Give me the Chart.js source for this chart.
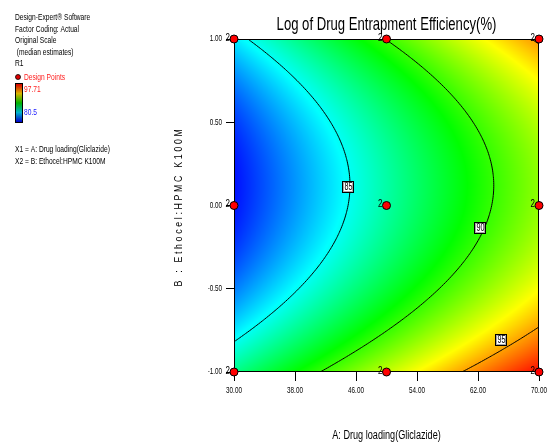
<!DOCTYPE html>
<html>
<head>
<meta charset="utf-8">
<script src="https://cdn.jsdelivr.net/npm/chart.js@4.4.0/dist/chart.umd.min.js"></script>
<style>
  html, body { margin: 0; padding: 0; background: #fff; }
</style>
</head>
<body>
<canvas id="chart-contour" width="548" height="442"></canvas>
<script>
// design levels (actual units for A, coded for B)
const drugLoading = [30, 50, 70];
const ethocelLevel = [-1, 0, 1];
const replicates = 2;

// fitted surface, coded units: b0, A, B, AB, A^2, B^2
const modelCoef = [86.37, 5.388, -1.165, 0, -0.182, 4.845];
const responseRange = [80.5, 97.71];

// contour levels and where their labels sit
const contourLevels = [85, 90, 95];
const labelA = [45.0, 62.3, 65.0];
const labelB = [0.11, -0.135, -0.81];

const infoLines = [
    "Design-Expert\u00ae Software",
    "Factor Coding: Actual",
    "Original Scale",
    " (median estimates)",
    "R1"
];
const factorLines = [
    "X1 = A: Drug loading(Gliclazide)",
    "X2 = B: Ethocel:HPMC K100M"
];

const FONT = "'Liberation Sans', Arial, sans-serif";

function response(a, b) {
    let xa = (a - 50) / 20;
    let xb = b;
    let c = modelCoef;
    return c[0] + c[1] * xa + c[2] * xb + c[3] * xa * xb + c[4] * xa * xa + c[5] * xb * xb;
}

const colorStops = [
    [0, 0, 0, 255],
    [0.25, 0, 255, 255],
    [0.5, 0, 255, 0],
    [0.75, 255, 255, 0],
    [1, 255, 0, 0]
];

function rampColor(v) {
    let t = (v - responseRange[0]) / (responseRange[1] - responseRange[0]);
    t = Math.max(0, Math.min(1, t));
    for (let i = 1; i < colorStops.length; i++) {
        if (t <= colorStops[i][0]) {
            let p = colorStops[i - 1], q = colorStops[i];
            let f = (t - p[0]) / (q[0] - p[0]);
            return [p[1] + (q[1] - p[1]) * f, p[2] + (q[2] - p[2]) * f, p[3] + (q[3] - p[3]) * f];
        }
    }
    return [255, 0, 0];
}

// no narrow font installed, so squeeze text horizontally
function narrowText(ctx, text, x, y, align, sx) {
    ctx.save();
    ctx.translate(x, y);
    ctx.scale(sx, 1);
    ctx.textAlign = align;
    ctx.fillText(text, 0, 0);
    ctx.restore();
}

// marching squares over the factor space, returns segments in data units
function contourSegments(level, n) {
    let segs = [];
    let a0 = drugLoading[0], a1 = drugLoading[drugLoading.length - 1];
    let b0 = ethocelLevel[0], b1 = ethocelLevel[ethocelLevel.length - 1];
    let da = (a1 - a0) / n, db = (b1 - b0) / n;
    for (let i = 0; i < n; i++) {
        for (let j = 0; j < n; j++) {
            let ax = a0 + i * da, bx = b0 + j * db;
            let p = [[ax, bx], [ax + da, bx], [ax + da, bx + db], [ax, bx + db]];
            let v = p.map(q => response(q[0], q[1]));
            let pts = [];
            for (let k = 0; k < 4; k++) {
                let m = (k + 1) % 4;
                if ((v[k] - level) * (v[m] - level) < 0) {
                    let f = (level - v[k]) / (v[m] - v[k]);
                    pts.push([p[k][0] + (p[m][0] - p[k][0]) * f, p[k][1] + (p[m][1] - p[k][1]) * f]);
                }
            }
            if (pts.length === 2) segs.push(pts);
            else if (pts.length === 4) { segs.push([pts[0], pts[1]]); segs.push([pts[2], pts[3]]); }
        }
    }
    return segs;
}

const surfacePlugin = {
    id: "surface",
    beforeDatasetsDraw(chart) {
        const {ctx, chartArea: area, scales: {x, y}} = chart;
        let w = Math.round(area.right - area.left);
        let h = Math.round(area.bottom - area.top);
        let img = ctx.createImageData(w, h);
        for (let j = 0; j < h; j++) {
            let b = y.getValueForPixel(area.top + j + 0.5);
            for (let i = 0; i < w; i++) {
                let a = x.getValueForPixel(area.left + i + 0.5);
                let c = rampColor(response(a, b));
                let k = (j * w + i) * 4;
                img.data[k] = c[0]; img.data[k + 1] = c[1]; img.data[k + 2] = c[2]; img.data[k + 3] = 255;
            }
        }
        ctx.putImageData(img, Math.round(area.left), Math.round(area.top));

        ctx.save();
        ctx.beginPath();
        ctx.rect(area.left, area.top, area.right - area.left, area.bottom - area.top);
        ctx.clip();
        ctx.strokeStyle = "#000";
        ctx.lineWidth = 1;
        contourLevels.forEach(level => {
            ctx.beginPath();
            contourSegments(level, 160).forEach(s => {
                ctx.moveTo(x.getPixelForValue(s[0][0]), y.getPixelForValue(s[0][1]));
                ctx.lineTo(x.getPixelForValue(s[1][0]), y.getPixelForValue(s[1][1]));
            });
            ctx.stroke();
        });
        ctx.restore();

        // contour labels
        ctx.save();
        ctx.font = "10px " + FONT;
        ctx.textBaseline = "middle";
        contourLevels.forEach((level, i) => {
            let px = Math.round(x.getPixelForValue(labelA[i]));
            let py = Math.round(y.getPixelForValue(labelB[i]));
            ctx.fillStyle = "#fff";
            ctx.fillRect(px - 6, py - 6, 12, 12);
            ctx.strokeStyle = "#000";
            ctx.strokeRect(px - 5.5, py - 5.5, 11, 11);
            ctx.strokeStyle = "#aaa";
            ctx.strokeRect(px - 4.5, py - 4.5, 9, 9);
            ctx.fillStyle = "#000";
            narrowText(ctx, String(level), px + 0.5, py + 0.5, "center", 0.72);
        });
        ctx.restore();

        // frame
        ctx.save();
        ctx.strokeStyle = "#000";
        ctx.lineWidth = 1;
        ctx.strokeRect(Math.round(area.left) + 0.5, Math.round(area.top) + 0.5,
            Math.round(area.right - area.left) - 1, Math.round(area.bottom - area.top) - 1);
        ctx.restore();
    },
    afterDatasetsDraw(chart) {
        const {ctx, scales: {x, y}} = chart;
        ctx.save();
        ctx.font = "10px " + FONT;
        ctx.fillStyle = "#000";
        ctx.textBaseline = "middle";
        chart.data.datasets[0].data.forEach(p => {
            narrowText(ctx, String(replicates), x.getPixelForValue(p.x) - 4, y.getPixelForValue(p.y) - 1, "right", 0.8);
        });
        ctx.restore();
    }
};

const textPlugin = {
    id: "texts",
    afterDraw(chart) {
        const {ctx, chartArea: area, scales: {x, y}} = chart;
        let cx = (area.left + area.right) / 2;
        ctx.save();
        ctx.fillStyle = "#000";
        ctx.textBaseline = "middle";

        // tick labels from the scales
        ctx.font = "9px " + FONT;
        x.ticks.forEach(t => {
            narrowText(ctx, Number(t.value).toFixed(2), x.getPixelForValue(t.value), 391, "center", 0.7);
        });
        y.ticks.forEach(t => {
            narrowText(ctx, Number(t.value).toFixed(2), 222, y.getPixelForValue(t.value), "right", 0.7);
        });

        // title
        ctx.font = "19px " + FONT;
        narrowText(ctx, "Log of Drug Entrapment Efficiency(%)", cx, 25, "center", 0.69);

        // x title
        ctx.font = "12px " + FONT;
        narrowText(ctx, "A: Drug loading(Gliclazide)", cx, 436, "center", 0.76);

        // y title, spaced out
        ctx.save();
        ctx.translate(179, (area.top + area.bottom) / 2 + 1);
        ctx.rotate(-Math.PI / 2);
        ctx.font = "11px " + FONT;
        let yTitle = "B : Ethocel:HPMC K100M";
        let wPlain = ctx.measureText(yTitle).width * 0.8;
        ctx.scale(0.8, 1);
        ctx.letterSpacing = ((160 - wPlain) / yTitle.length / 0.8).toFixed(2) + "px";
        ctx.textAlign = "center";
        ctx.fillText(yTitle, 0, 0);
        ctx.restore();

        // info panel
        ctx.font = "9px " + FONT;
        infoLines.forEach((t, i) => narrowText(ctx, t, 15, 18 + i * 11.5, "left", 0.74));

        ctx.beginPath();
        ctx.arc(18, 77, 2.5, 0, Math.PI * 2);
        ctx.fillStyle = "#e00000";
        ctx.fill();
        ctx.strokeStyle = "#000";
        ctx.lineWidth = 0.8;
        ctx.stroke();
        ctx.fillStyle = "#ff2020";
        narrowText(ctx, "Design Points", 24, 78, "left", 0.74);

        let grad = ctx.createLinearGradient(0, 84, 0, 122);
        for (let i = colorStops.length - 1; i >= 0; i--) {
            let s = colorStops[i];
            grad.addColorStop(1 - s[0], "rgb(" + Math.round(s[1] * 0.85) + "," + Math.round(s[2] * 0.7) + "," + Math.round(s[3] * 0.8) + ")");
        }
        ctx.fillStyle = grad;
        ctx.fillRect(16, 84, 6, 38);
        ctx.strokeStyle = "#000";
        ctx.lineWidth = 1;
        ctx.strokeRect(15.5, 83.5, 7, 39);
        ctx.fillStyle = "#ff2020";
        narrowText(ctx, responseRange[1].toFixed(2), 24, 90, "left", 0.74);
        ctx.fillStyle = "#2020ff";
        narrowText(ctx, String(responseRange[0]), 24, 113, "left", 0.74);

        ctx.fillStyle = "#000";
        factorLines.forEach((t, i) => narrowText(ctx, t, 15, 150 + i * 12, "left", 0.74));
        ctx.restore();
    }
};

let designPoints = [];
drugLoading.forEach(a => ethocelLevel.forEach(b => designPoints.push({x: a, y: b})));

new Chart(document.getElementById("chart-contour").getContext("2d"), {
    type: "scatter",
    data: {
        datasets: [{
            label: "Design Points",
            data: designPoints,
            backgroundColor: "#ff0000",
            borderColor: "#000",
            borderWidth: 1,
            pointRadius: 4,
            clip: false
        }]
    },
    options: {
        responsive: false,
        animation: false,
        layout: { padding: { left: 0, right: 9, top: 39, bottom: 0 } },
        scales: {
            x: {
                type: "linear",
                min: 30,
                max: 70,
                afterFit: s => { s.height = 70; s.paddingLeft = 0; s.paddingRight = 0; },
                ticks: { stepSize: 8, color: "rgba(0,0,0,0)", font: {size: 8}, maxRotation: 0 },
                grid: { display: true, drawOnChartArea: false, drawTicks: true, tickLength: 9, color: "#000" },
                border: { display: false }
            },
            y: {
                type: "linear",
                min: -1,
                max: 1,
                afterFit: s => { s.width = 234; s.paddingTop = 0; s.paddingBottom = 0; },
                ticks: { stepSize: 0.5, color: "rgba(0,0,0,0)", font: {size: 8} },
                grid: { display: true, drawOnChartArea: false, drawTicks: true, tickLength: 8, color: "#000" },
                border: { display: false }
            }
        },
        plugins: {
            legend: { display: false },
            tooltip: { enabled: false }
        }
    },
    plugins: [surfacePlugin, textPlugin]
});
</script>
</body>
</html>
